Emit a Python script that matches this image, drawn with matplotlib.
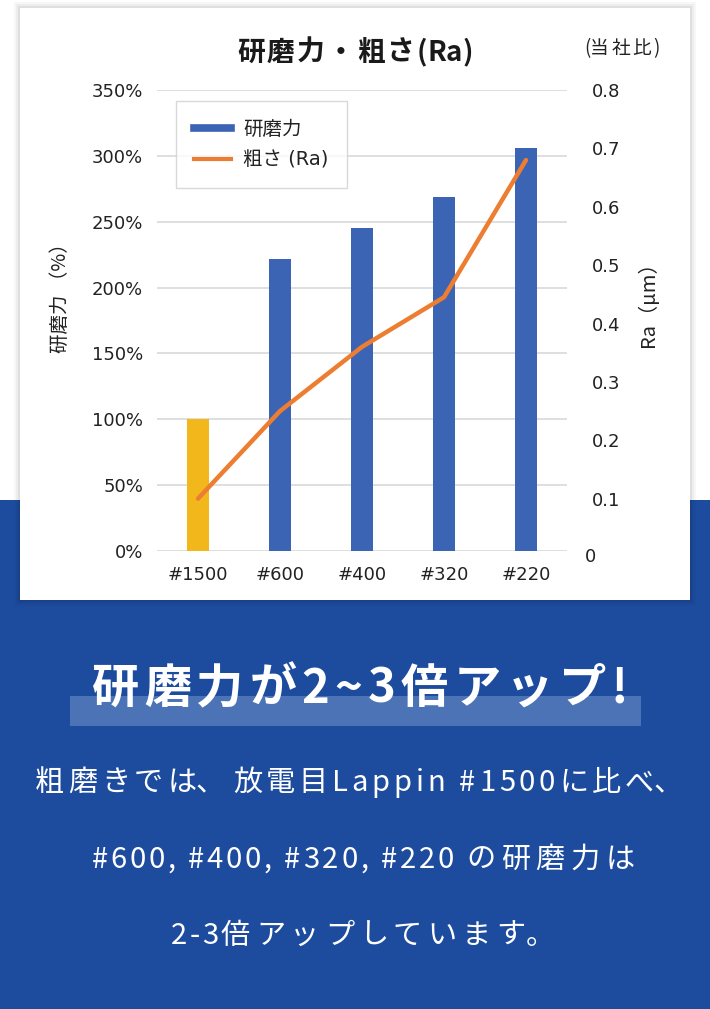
import matplotlib.pyplot as plt
import matplotlib.patches as mpatches
from matplotlib.lines import Line2D
from matplotlib import font_manager
from matplotlib.ft2font import FT2Font

plt.rcParams['font.family'] = ['Noto Sans CJK JP', 'DejaVu Sans']

# chart data
grits = ['#1500', '#600', '#400', '#320', '#220']
power = [100, 222, 245, 269, 306]          # 研磨力 (%)
ra = [0.10, 0.25, 0.36, 0.445, 0.68]        # 粗さ Ra (um)
bar_colors = ['#f2b81b', '#3b65b4', '#3b65b4', '#3b65b4', '#3b65b4']
left_ticks = [0, 50, 100, 150, 200, 250, 300, 350]
right_ticks = [0.1, 0.2, 0.3, 0.4, 0.5, 0.6, 0.7, 0.8]

W, H = 710, 1009
DPI = 100
BLUE = '#1d4c9f'
TICK_FONT = ['DejaVu Sans', 'Noto Sans CJK JP']


def fx(x):
    return x / W


def fy(y):
    return 1 - y / H


fig = plt.figure(figsize=(W / DPI, H / DPI), dpi=DPI)
fig.patch.set_facecolor('white')


# draw text with letter spacing (matplotlib has no tracking); either a fixed gap
# or one worked out to fill a width. ascii_frac scales the gap after latin chars.
def spaced_text(s, cx, cy, size, target=None, tr=0.0, ascii_frac=1.0, weight='normal', color='white'):
    path = font_manager.findfont(font_manager.FontProperties(family='Noto Sans CJK JP', weight=weight))
    ft = FT2Font(path)
    ft.set_size(size, DPI)
    adv, mid = [], []
    for ch in s:
        g = ft.load_char(ord(ch))
        a = g.linearHoriAdvance / 65536
        adv.append(a)
        # halfway between ink centre and cell centre (punctuation sits off-centre)
        mid.append(((g.horiBearingX + g.width / 2) / 64 + a / 2) / 2)
    wts = [1.0 if ord(ch) > 127 else ascii_frac for ch in s]
    wts[-1] = 0.0
    if target is not None:
        tr = (target - sum(adv)) / sum(wts)
    pos = cx - (sum(adv) + tr * sum(wts)) / 2
    em = size * DPI / 72
    for ch, a, m, w in zip(s, adv, mid, wts):
        if ch != ' ':
            fig.text(fx(pos + m), fy(cy + 0.38 * em), ch, fontsize=size, fontweight=weight,
                     color=color, ha='center', va='baseline')
        pos += a + tr * w
    return tr


# blue lower band
fig.add_artist(mpatches.Rectangle((0, 0), 1, fy(500), transform=fig.transFigure,
                                  facecolor=BLUE, edgecolor='none', zorder=-20))
# soft shadow round the white card
for grow, a in [(6, 0.03), (4, 0.04), (2, 0.06)]:
    fig.add_artist(mpatches.Rectangle((fx(20 - grow), fy(600 + grow)), fx(670 + 2 * grow), (592 + 2 * grow) / H,
                                      transform=fig.transFigure, facecolor='black',
                                      edgecolor='none', alpha=a, zorder=-15))
fig.add_artist(mpatches.Rectangle((fx(20), fy(600)), fx(670), 592 / H, transform=fig.transFigure,
                                  facecolor='white', edgecolor='none', zorder=-10))

# main axes
ax = fig.add_axes([fx(157), fy(551), fx(567 - 157), (551 - 90) / H])
ax.set_facecolor('none')
x = range(len(grits))
ax.bar(x, power, width=0.28, color=bar_colors, zorder=3)
ax.set_xlim(-0.5, len(grits) - 0.5)
ax.set_ylim(0, 350)
ax.set_yticks(left_ticks)
ax.set_yticklabels([f'{v}%' for v in left_ticks], family=TICK_FONT)
ax.set_xticks(list(x))
ax.set_xticklabels(grits, family=TICK_FONT)
ax.yaxis.grid(True, color='#d9d9d9', linewidth=1.2)
ax.set_axisbelow(True)
for s in ax.spines.values():
    s.set_visible(False)
ax.tick_params(axis='both', length=0, labelsize=13, colors='#222222')
ax.tick_params(axis='y', pad=10)
ax.tick_params(axis='x', pad=11)

# right axis (its 0 sits a few px below the left 0%)
ax2 = ax.twinx()
ax2.plot(list(x), ra, color='#ed7d31', linewidth=3.2, solid_capstyle='round', zorder=5)
ax2.set_ylim(0.0103, 0.8)
ax2.set_yticks(right_ticks)
ax2.set_yticklabels([f'{v:.1f}' for v in right_ticks], family=TICK_FONT)
for s in ax2.spines.values():
    s.set_visible(False)
ax2.tick_params(axis='y', length=0, labelsize=13, colors='#222222', pad=18)
ax2.text(1 + 18 / 410, 0, '0', transform=ax2.get_yaxis_transform(), clip_on=False,
         fontsize=13, family=TICK_FONT, color='#222222', va='center', ha='left')

# axis titles
fig.text(fx(60), fy(293), '研磨力 （%）', rotation=90, ha='center', va='center',
         fontsize=14, color='#222222')
fig.text(fx(648), fy(299), 'Ra（μm）', rotation=90, ha='center', va='center',
         fontsize=14.5, color='#222222')

# legend
handles = [Line2D([0], [0], color='#3b65b4', linewidth=5.5),
           Line2D([0], [0], color='#ed7d31', linewidth=3)]
leg = ax2.legend(handles, ['研磨力', '粗さ (Ra)'], loc='upper left',
                 bbox_to_anchor=(fx(176), fy(101)), bbox_transform=fig.transFigure,
                 borderaxespad=0, fancybox=False, frameon=True,
                 prop={'family': TICK_FONT, 'size': 14},
                 handlelength=1.9, handletextpad=0.6, labelspacing=0.62, borderpad=0.95)
leg.get_frame().set_edgecolor('#d0d0d0')
leg.get_frame().set_linewidth(1)
for t in leg.get_texts():
    t.set_color('#222222')

# titles
spaced_text('研磨力・粗さ(Ra)', 355, 50, 20, target=236, ascii_frac=0, weight='bold', color='#1a1a1a')
spaced_text('(当社比)', 622, 47, 13.5, target=76, ascii_frac=0, color='#222222')

# headline with highlight bar
fig.add_artist(mpatches.Rectangle((fx(70), fy(726)), fx(571), 30 / H, transform=fig.transFigure,
                                  facecolor='#4b73b6', edgecolor='none', zorder=1))
spaced_text('研磨力が2~3倍アップ!', 360, 685, 34, target=536, weight='bold')

# body text
spaced_text('粗磨きでは、放電目Lappin #1500に比べ、', 361, 780, 21, target=652)
spaced_text('#600, #400, #320, #220 の研磨力は', 363, 857, 21, target=543, ascii_frac=0.5)
spaced_text('2-3倍アップしています。', 365, 933, 21, target=388, ascii_frac=0.5)

fig.savefig('out.png', dpi=DPI)
